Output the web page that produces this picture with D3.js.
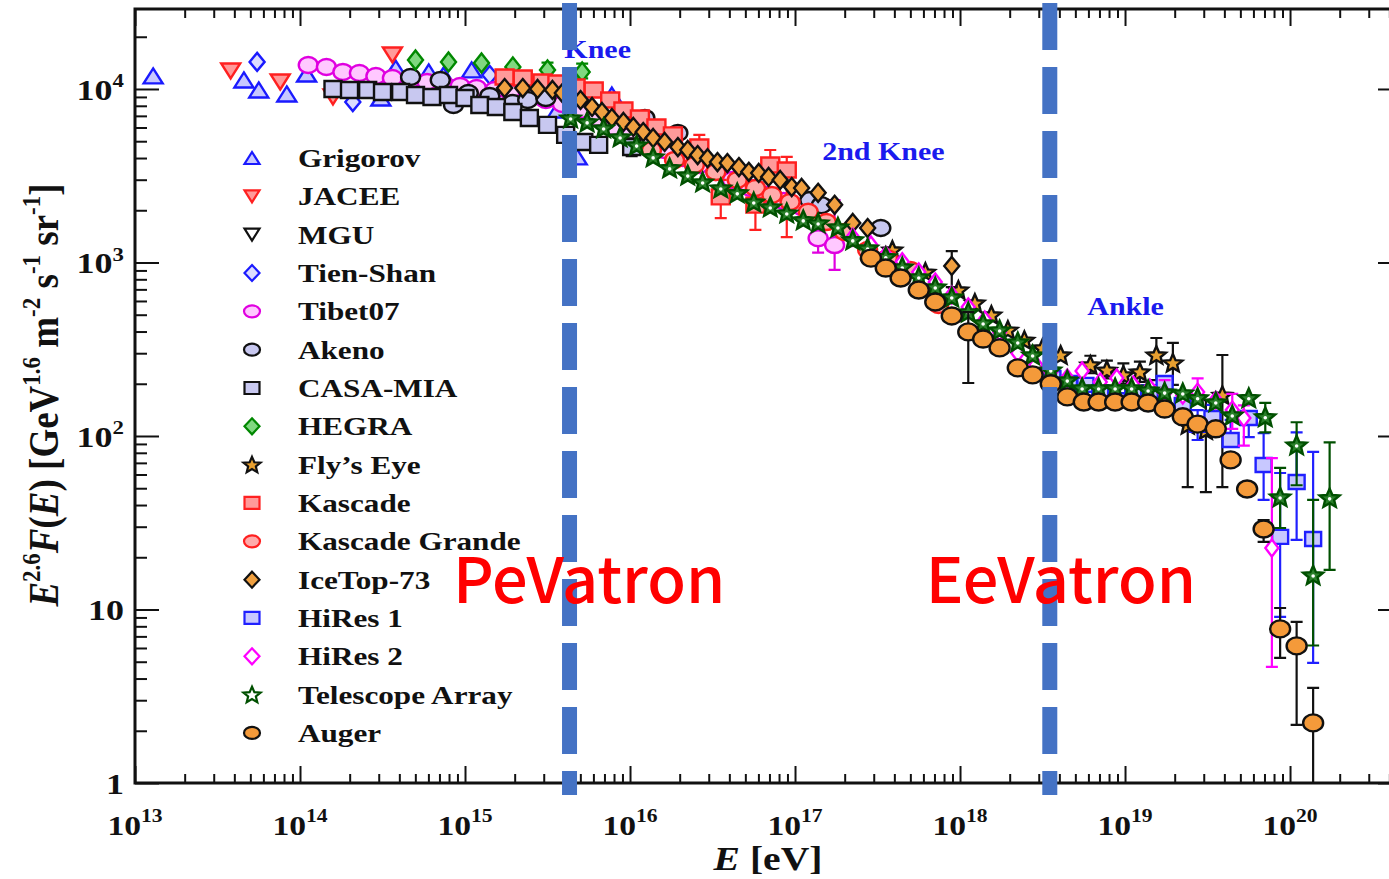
<!DOCTYPE html>
<html><head><meta charset="utf-8">
<script src="https://cdn.jsdelivr.net/npm/d3@7"></script>
<style>body{margin:0;background:#fff;}svg{display:block;}</style>
</head><body>
<svg id="chart" width="1389" height="879"></svg>
<script>
// ---------------- DATA (log10 E in eV, flux E^2.6 F(E)) ----------------
const grigorovLogE = [13.11,13.66,13.75,13.92,14.04,14.49,14.58,14.78,14.87,15.04,15.56,15.68,15.89];
const grigorovF    = [11900,11270,9870,9360,12200,8870,13200,12540,12040,12880,7570,4060,9230];

const jaceeLogE = [13.58,13.88,14.20,14.56];
const jaceeF    = [12700,10970,9000,15700];

const mguLogE = [15.25,15.45];
const mguF    = [10300,9800];

const tienShanLogE = [13.74,14.32,15.15];
const tienShanF    = [14330,8410,12040];

const tibetLogE = [14.05,14.16,14.26,14.36,14.46,14.56,14.67,14.77,14.87,14.97,15.07,15.18,15.28,15.38,15.49,15.59,15.70,15.80,15.90,16.01,16.11,16.21,16.32,16.42,16.52,16.62,16.73,16.83,16.93,17.04,17.14,17.24];
const tibetF    = [13750,13390,12540,12360,11880,11570,11270,10970,10690,10400,10130,9870,9480,8990,8640,8200,7570,6810,6040,5440,4890,4450,4000,3650,3320,2990,2690,2450,2260,2090,1380,1260];
const tibetLo   = [null,null,null,null,null,null,null,null,null,null,null,null,null,null,null,null,null,null,null,null,null,null,null,null,null,null,null,null,null,null,1140,906];
const tibetHi   = [null,null,null,null,null,null,null,null,null,null,null,null,null,null,null,null,null,null,null,null,null,null,null,null,null,null,null,null,null,null,1580,2290];

const akenoLogE = [14.67,14.85,14.93,15.02,15.15,15.29,15.38,15.49,16.09,16.29,17.09,17.16,17.52];
const akenoF    = [11730,11270,8090,9480,9120,8300,8640,8880,6810,5580,2290,2140,1580];

const casaLogE = [14.20,14.30,14.41,14.50,14.61,14.70,14.80,14.90,15.00,15.09,15.19,15.29,15.39,15.50,15.61,15.72,15.81,16.01];
const casaF    = [10000,9870,9870,9610,9610,9230,8990,9230,8880,8090,7880,7370,6810,6210,5440,4950,4760,4630];
const casaLo   = [null,null,null,null,null,null,null,null,null,null,null,null,null,null,null,null,null,4100];
const casaHi   = [null,null,null,null,null,null,null,null,null,null,null,null,null,null,null,null,null,5200];

const hegraLogE = [14.70,14.90,15.10,15.29,15.50,15.71];
const hegraF    = [14700,14320,14120,13390,12880,12540];
const hegraLo   = [null,null,null,null,11800,11500];
const hegraHi   = [null,null,null,null,14200,14000];

const flysLogE = [17.59,17.79,17.99,18.09,18.19,18.29,18.39,18.50,18.61,18.79,18.89,18.99,19.09,19.19,19.29,19.38,19.49,19.59];
const flysF    = [1180,881,694,584,498,408,357,322,293,257,240,225,234,293,264,116,108,172];
const flysLo   = [null,null,null,null,null,null,null,null,null,230,215,200,205,210,197,50.8,47.5,50.8];
const flysHi   = [null,null,null,null,null,null,null,null,null,290,272,262,268,367,344,172,161,293];

const kascadeLogE = [15.24,15.35,15.47,15.56,15.67,15.78,15.88,15.96,16.06,16.16,16.26,16.42,16.55,16.76,16.85,16.95];
const kascadeF    = [11730,11570,10970,10830,10270,9870,8640,7570,6810,6040,5440,4630,2390,2140,3650,3410];
const kascadeLo   = [null,null,null,null,null,null,null,null,null,null,null,3990,1800,1540,2990,1400];
const kascadeHi   = [null,null,null,null,null,null,null,null,null,null,null,5440,2990,2800,4450,4060];

const kgLogE = [16.13,16.27,16.39,16.52,16.65,16.76,16.86,16.97,17.08,17.19,17.30,17.44,17.56,17.70,17.87];
const kgF    = [4450,3900,3650,3320,2990,2690,2450,2230,1960,1710,1500,1180,1060,906,569];

const iceLogE = [15.24,15.35,15.44,15.53,15.59,15.70,15.77,15.83,15.89,15.96,16.02,16.08,16.14,16.21,16.29,16.35,16.41,16.47,16.53,16.59,16.66,16.72,16.78,16.84,16.91,16.98,17.04,17.14,17.24,17.35,17.44,17.95];
const iceF    = [10130,10130,10000,9870,9480,8640,7880,7370,6800,6460,6040,5650,5220,4950,4630,4450,4160,3990,3790,3740,3550,3330,3280,3110,2990,2720,2690,2520,2150,1690,1580,955];
const iceLo   = [null,null,null,null,null,null,null,null,null,null,null,null,null,null,null,null,null,null,null,null,null,null,null,null,null,null,null,null,null,null,null,722];
const iceHi   = [null,null,null,null,null,null,null,null,null,null,null,null,null,null,null,null,null,null,null,null,null,null,null,null,null,null,null,null,null,null,null,1164];

const hires1LogE = [18.56,18.66,18.76,18.85,18.95,19.05,19.15,19.24,19.35,19.44,19.53,19.64,19.75,19.84,19.94,20.04,20.14];
const hires1F    = [216,202,197,179,161,172,179,202,151,116,127,94.8,127,68.1,26.2,54.3,25.5];
const hires1Lo   = [null,null,null,null,null,null,null,null,null,94.8,105,88.7,98.6,42.8,9.06,25.2,4.92];
const hires1Hi   = [null,null,null,null,null,null,null,null,null,141,151,124,137,104,61.2,105,80.9];

const hires2LogE = [17.35,17.46,17.55,17.65,17.75,17.85,17.95,18.05,18.15,18.24,18.35,18.46,18.55,18.65,18.74,18.85,18.95,19.05,19.15,19.24,19.35,19.44,19.55,19.65,19.72,19.89];
const hires2F    = [1400,1260,1100,1010,881,772,650,554,467,398,301,257,234,216,237,205,216,197,189,177,172,179,161,141,127,22.6];
const hires2Lo   = [null,null,null,null,null,null,null,null,null,null,null,null,null,null,null,null,null,null,null,150,null,160,null,110,88,4.67];
const hires2Hi   = [null,null,null,null,null,null,null,null,null,null,null,null,null,null,null,null,null,null,null,210,null,215,null,175,150,74.6];

const taLogE = [15.64,15.74,15.84,15.94,16.04,16.14,16.24,16.35,16.44,16.55,16.65,16.75,16.85,16.95,17.05,17.14,17.26,17.35,17.44,17.55,17.65,17.75,17.85,17.95,18.05,18.14,18.24,18.35,18.44,18.55,18.65,18.74,18.84,18.94,19.04,19.14,19.24,19.35,19.44,19.55,19.65,19.75,19.85,19.94,20.04,20.14,20.24];
const taF    = [6810,6460,5960,5290,4750,4060,3510,3190,2910,2690,2520,2230,2090,1930,1760,1690,1600,1350,1210,1080,942,825,722,632,518,448,408,348,293,240,210,189,189,189,189,184,179,177,166,157,132,166,129,44.5,88.7,15.8,44];
const taLo   = [null,null,null,null,null,null,null,null,null,null,null,null,null,null,null,null,null,null,null,null,null,null,null,null,null,null,null,null,null,null,null,null,null,null,null,null,null,null,null,null,null,null,105,29.5,52,6.2,16.9];
const taHi   = [null,null,null,null,null,null,null,null,null,null,null,null,null,null,null,null,null,null,null,null,null,null,null,null,null,null,null,null,null,null,null,null,null,null,null,null,null,null,null,null,null,null,155,65.5,120,42.8,92];

const augerLogE = [17.46,17.55,17.64,17.75,17.85,17.95,18.05,18.14,18.24,18.35,18.44,18.55,18.65,18.75,18.84,18.94,19.04,19.14,19.24,19.35,19.44,19.55,19.64,19.74,19.84,19.94,20.04,20.14];
const augerF    = [1060,929,814,694,592,492,398,362,322,247,225,200,168,157,157,157,157,155,143,129,117,110,72.8,49.5,29.1,7.73,6.17,2.22];
const augerLo   = [null,null,null,null,null,null,202,null,null,null,null,null,null,null,null,null,null,null,null,null,null,null,null,null,24.5,5.26,2.16,0.5];
const augerHi   = [null,null,null,null,null,null,518,null,null,null,null,null,null,null,null,null,null,null,null,null,null,null,null,null,32.8,10.2,8.48,3.53];

const xTickExp = [13,14,15,16,17,18,19,20];
const yTickExp = [0,1,2,3,4];
const yTickLabels = ["1","10","10","10","10"];
const yTickSups   = ["","","2","3","4"];

const kneeLines = [4.3e15, 3.5e18];   // energies of the dashed markers
const annotations = [
  {text:"Knee", e:4.0e15, f:15100},
  {text:"2nd Knee", e:1.46e17, f:3900},
  {text:"Ankle", e:5.9e18, f:500}
];
const regionLabels = [
  {text:"PeVatron", e:8.45e14},
  {text:"EeVatron", e:6.2e17}
];

// ---------------- SERIES STYLE ----------------
const series = [
 {name:"Grigorov", le:grigorovLogE, f:grigorovF, shape:"tri", stroke:"#1a1aff", fill:"#c8c8ff", w:19, h:15},
 {name:"JACEE", le:jaceeLogE, f:jaceeF, shape:"tridown", stroke:"#ff2020", fill:"#ff9a9a", w:19, h:15},
 {name:"MGU", le:mguLogE, f:mguF, shape:"tridown", stroke:"#111", fill:"#ffffff", w:17, h:14},
 {name:"Tien-Shan", le:tienShanLogE, f:tienShanF, shape:"diamond", stroke:"#1a1aff", fill:"#dcdcff", w:15, h:18},
 {name:"Tibet07", le:tibetLogE, f:tibetF, lo:tibetLo, hi:tibetHi, shape:"circle", stroke:"#e000e0", fill:"#ffc8ff", w:19, h:16},
 {name:"Akeno", le:akenoLogE, f:akenoF, shape:"circle", stroke:"#111", fill:"#c8c8f0", w:19, h:16},
 {name:"CASA-MIA", le:casaLogE, f:casaF, lo:casaLo, hi:casaHi, shape:"square", stroke:"#111", fill:"#c8c8f0", w:17, h:16},
 {name:"HEGRA", le:hegraLogE, f:hegraF, lo:hegraLo, hi:hegraHi, shape:"diamond", stroke:"#008800", fill:"#80d880", w:15, h:19},
 {name:"Fly\u2019s Eye", le:flysLogE, f:flysF, lo:flysLo, hi:flysHi, shape:"star", stroke:"#111", fill:"#e8a030", w:20, h:19},
 {name:"Kascade", le:kascadeLogE, f:kascadeF, lo:kascadeLo, hi:kascadeHi, shape:"square", stroke:"#ff2020", fill:"#ff9a9a", w:18, h:15},
 {name:"Kascade Grande", le:kgLogE, f:kgF, shape:"circle", stroke:"#ff2020", fill:"#ffaaaa", w:19, h:16},
 {name:"IceTop-73", le:iceLogE, f:iceF, lo:iceLo, hi:iceHi, shape:"diamond", stroke:"#111", fill:"#f0a040", w:15, h:18},
 {name:"HiRes 1", le:hires1LogE, f:hires1F, lo:hires1Lo, hi:hires1Hi, shape:"square", stroke:"#2020ff", fill:"#c8c8ff", w:16, h:14},
 {name:"HiRes 2", le:hires2LogE, f:hires2F, lo:hires2Lo, hi:hires2Hi, shape:"diamond", stroke:"#ff00ff", fill:"#ffffff", w:13, h:17},
 {name:"Telescope Array", le:taLogE, f:taF, lo:taLo, hi:taHi, shape:"star", stroke:"#005000", fill:"#2a7f2a", w:21, h:20, dot:true},
 {name:"Auger", le:augerLogE, f:augerF, lo:augerLo, hi:augerHi, shape:"circle", stroke:"#111", fill:"#f49a3a", w:20, h:17}
];

// ---------------- SCALES ----------------
const svg = d3.select("#chart");
const X0=135, X1=1392, Y0=783, Y1=9;
const x = d3.scaleLog().domain([1e13, Math.pow(10,20.618)]).range([X0,X1]);
const y = d3.scaleLog().domain([1, Math.pow(10,4.461)]).range([Y0,Y1]);
const SERIF = "'Liberation Serif','Times New Roman',serif";

function shapePath(type,w,h){
  const a=w/2,b=h/2;
  switch(type){
    case "circle": return `M${-a},0A${a},${b} 0 1,0 ${a},0A${a},${b} 0 1,0 ${-a},0Z`;
    case "square": return `M${-a},${-b}H${a}V${b}H${-a}Z`;
    case "tri": return `M0,${-b}L${a},${b}L${-a},${b}Z`;
    case "tridown": return `M0,${b}L${a},${-b}L${-a},${-b}Z`;
    case "diamond": return `M0,${-b}L${a},0L0,${b}L${-a},0Z`;
    case "star": {
      let p=[];
      for(let i=0;i<10;i++){
        const ang=-Math.PI/2+i*Math.PI/5;
        const r=(i%2===0)?1:0.45;
        p.push([(a*r*Math.cos(ang)).toFixed(2),(b*r*Math.sin(ang)+ (b*0.08)).toFixed(2)]);
      }
      return "M"+p.map(q=>q.join(",")).join("L")+"Z";
    }
  }
}

svg.append("defs").append("clipPath").attr("id","plotclip")
  .append("rect").attr("x",X0).attr("y",Y1).attr("width",X1-X0).attr("height",Y0-Y1);

// ---------------- AXES (ticks) ----------------
const minorX=[], minorY=[];
for(let k=13;k<=20;k++) for(let m=2;m<=9;m++){const v=m*Math.pow(10,k); if(v<x.domain()[1]) minorX.push(v);}
for(let k=0;k<=4;k++) for(let m=2;m<=9;m++){const v=m*Math.pow(10,k); if(v<y.domain()[1]) minorY.push(v);}
const majorX = xTickExp.map(k=>Math.pow(10,k));
const majorY = yTickExp.map(k=>Math.pow(10,k));

function addAxis(axis, tr){
  const g=svg.append("g").attr("transform",tr).call(axis);
  g.select(".domain").remove();
  g.selectAll("text").remove();
  g.selectAll("line").attr("stroke","#111").attr("stroke-width",2);
  return g;
}
addAxis(d3.axisBottom(x).tickValues(majorX).tickSize(-17).tickSizeOuter(0), `translate(0,${Y0})`);
addAxis(d3.axisBottom(x).tickValues(minorX).tickSize(-9).tickSizeOuter(0), `translate(0,${Y0})`);
addAxis(d3.axisTop(x).tickValues(majorX).tickSize(-17).tickSizeOuter(0), `translate(0,${Y1})`);
addAxis(d3.axisTop(x).tickValues(minorX).tickSize(-9).tickSizeOuter(0), `translate(0,${Y1})`);
addAxis(d3.axisLeft(y).tickValues(majorY).tickSize(-24).tickSizeOuter(0), `translate(${X0},0)`);
addAxis(d3.axisLeft(y).tickValues(minorY).tickSize(-12).tickSizeOuter(0), `translate(${X0},0)`);
addAxis(d3.axisRight(y).tickValues(majorY).tickSize(-14).tickSizeOuter(0), `translate(${X1},0)`);
addAxis(d3.axisRight(y).tickValues(minorY).tickSize(-3).tickSizeOuter(0), `translate(${X1},0)`);

// frame
svg.append("path").attr("d",`M${X0},${Y1}H${X1}V${Y0}H${X0}Z`)
  .attr("fill","none").attr("stroke","#111").attr("stroke-width",3);

// tick labels
xTickExp.forEach(k=>{
  const t=svg.append("text").attr("transform",`translate(${x(Math.pow(10,k))},835) scale(1.2,1)`)
    .attr("text-anchor","middle").attr("font-family",SERIF).attr("font-weight","bold")
    .attr("font-size",28).attr("fill","#111");
  t.append("tspan").text("10");
  t.append("tspan").attr("dy",-13).attr("font-size",18).text(String(k));
});
yTickExp.forEach((k,i)=>{
  const t=svg.append("text").attr("transform",`translate(124,${y(Math.pow(10,k))+11}) scale(1.2,1)`)
    .attr("text-anchor","end").attr("font-family",SERIF).attr("font-weight","bold")
    .attr("font-size",30).attr("fill","#111");
  t.append("tspan").text(yTickLabels[i]);
  if(yTickSups[i]) t.append("tspan").attr("dy",-13).attr("font-size",19).text(yTickSups[i]);
});

// axis titles
{
  const t=svg.append("text").attr("transform","translate(768,870) scale(1.2,1)")
    .attr("text-anchor","middle").attr("font-family",SERIF).attr("font-weight","bold")
    .attr("font-size",33).attr("fill","#111");
  t.append("tspan").attr("font-style","italic").text("E");
  t.append("tspan").text(" [eV]");
}
{
  const t=svg.append("text").attr("transform","translate(58,395) rotate(-90) scale(1,1.12)")
    .attr("text-anchor","middle").attr("font-family",SERIF).attr("font-weight","bold")
    .attr("font-size",37).attr("fill","#111");
  const parts=[["E","i",0],["2.6","s",0],["F","i",1],["(",null,0],["E","i",0],[") [GeV",null,0],["1.6","s",0],[" m",null,1],["-2","s",0],[" s",null,1],["-1","s",0],[" sr",null,1],["-1","s",0],["]",null,1]];
  let up=false;
  parts.forEach(p=>{
    const ts=t.append("tspan").text(p[0]);
    if(p[1]==="i") ts.attr("font-style","italic");
    if(p[1]==="s"){ ts.attr("font-size",23).attr("dy",-16); up=true; }
    else if(up){ ts.attr("dy",16); up=false; }
  });
}

// ---------------- DATA MARKS ----------------
const plot = svg.append("g").attr("clip-path","url(#plotclip)");
series.forEach(s=>{
  const g=plot.append("g");
  const pts=s.le.map((le,i)=>({e:Math.pow(10,le), f:s.f[i], lo:s.lo?s.lo[i]:null, hi:s.hi?s.hi[i]:null}));
  const eb=pts.filter(p=>p.lo!=null);
  g.selectAll("path.eb").data(eb).enter().append("path").attr("class","eb")
    .attr("d",p=>`M${x(p.e)},${y(p.lo)}V${y(p.hi)}M${x(p.e)-6},${y(p.lo)}h12M${x(p.e)-6},${y(p.hi)}h12`)
    .attr("stroke",s.stroke).attr("stroke-width",2.2).attr("fill","none");
  g.selectAll("path.m").data(pts).enter().append("path").attr("class","m")
    .attr("transform",p=>`translate(${x(p.e)},${y(p.f)})`)
    .attr("d",shapePath(s.shape,s.w,s.h))
    .attr("fill",s.fill).attr("stroke",s.stroke).attr("stroke-width",2.4);
  if(s.dot){
    g.selectAll("circle.d").data(pts).enter().append("circle").attr("class","d")
      .attr("cx",p=>x(p.e)).attr("cy",p=>y(p.f)+1).attr("r",1.8).attr("fill","#fff");
  }
});

// ---------------- LEGEND ----------------
const leg = svg.append("g");
series.forEach((s,i)=>{
  const yy=158+i*38.33;
  const lw = s.shape==="circle"? 16 : (s.shape==="star"?18:15);
  const lh = s.shape==="circle"? 12 : (s.shape==="star"?17:(s.shape==="diamond"?16:12));
  leg.append("path").attr("transform",`translate(252,${yy})`)
    .attr("d",shapePath(s.shape,lw,lh))
    .attr("fill", s.dot? "#ffffff" : s.fill).attr("stroke",s.stroke).attr("stroke-width",2.2);
  leg.append("text").attr("transform",`translate(298,${yy+9}) scale(1.2,1)`)
    .attr("font-family",SERIF).attr("font-weight","bold").attr("font-size",26)
    .attr("fill","#111").text(s.name);
});

// ---------------- ANNOTATIONS ----------------
annotations.forEach(a=>{
  svg.append("text").attr("transform",`translate(${x(a.e)},${y(a.f)}) scale(1.2,1)`)
    .attr("font-family",SERIF).attr("font-weight","bold").attr("font-size",25)
    .attr("fill","#1a1aee").text(a.text);
});

// dashed lines
kneeLines.forEach(e=>{
  svg.append("line").attr("x1",x(e)).attr("x2",x(e)).attr("y1",3).attr("y2",795)
    .attr("stroke","#4472c4").attr("stroke-width",15).attr("stroke-dasharray","47,17");
});

regionLabels.forEach(r=>{
  svg.append("text").attr("x",x(r.e)).attr("y",603)
    .attr("font-family","'Noto Sans CJK SC','Noto Sans',sans-serif").attr("font-size",63)
    .attr("font-weight",500)
    .attr("fill","#ff0000").text(r.text);
});
</script>
</body></html>
